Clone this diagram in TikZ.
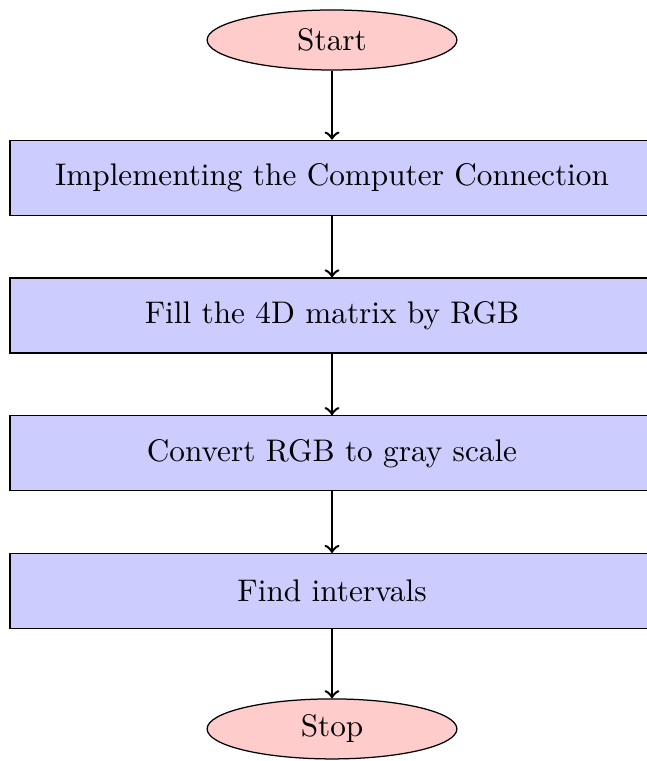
\documentclass[tikz,border=0pt]{standalone}
\usetikzlibrary{positioning,shapes.geometric}
\begin{document}
\begin{tikzpicture}[node distance=1.55cm, on grid,
        startstop/.style={ellipse,draw,fill=red!20,minimum width=2.81cm,minimum height=0.675cm,inner sep=0pt},
        process/.style={rectangle,draw,fill=blue!20,minimum width=7.245cm,minimum height=0.844cm},
        arrow/.style={thick,->}]
                \useasboundingbox (-3.735,0.45) rectangle (3.5325,-8.111);
                \node[startstop] (start) at (0,0) {Start};
                \node[process, below=of start] (connect) {Implementing the Computer Connection};
                \node[process, below=of connect] (fill) {Fill the 4D matrix by RGB};
                \node[process, below=of fill] (gray) {Convert RGB to gray scale};
                \node[process, below=of gray] (intervals) {Find intervals};
                \node[startstop, below=of intervals] (stop) {Stop};
                \draw[arrow] (start) -- (connect);
                \draw[arrow] (connect) -- (fill);
                \draw[arrow] (fill) -- (gray);
                \draw[arrow] (gray) -- (intervals);
                \draw[arrow] (intervals) -- (stop);
            \end{tikzpicture}
\end{document}
